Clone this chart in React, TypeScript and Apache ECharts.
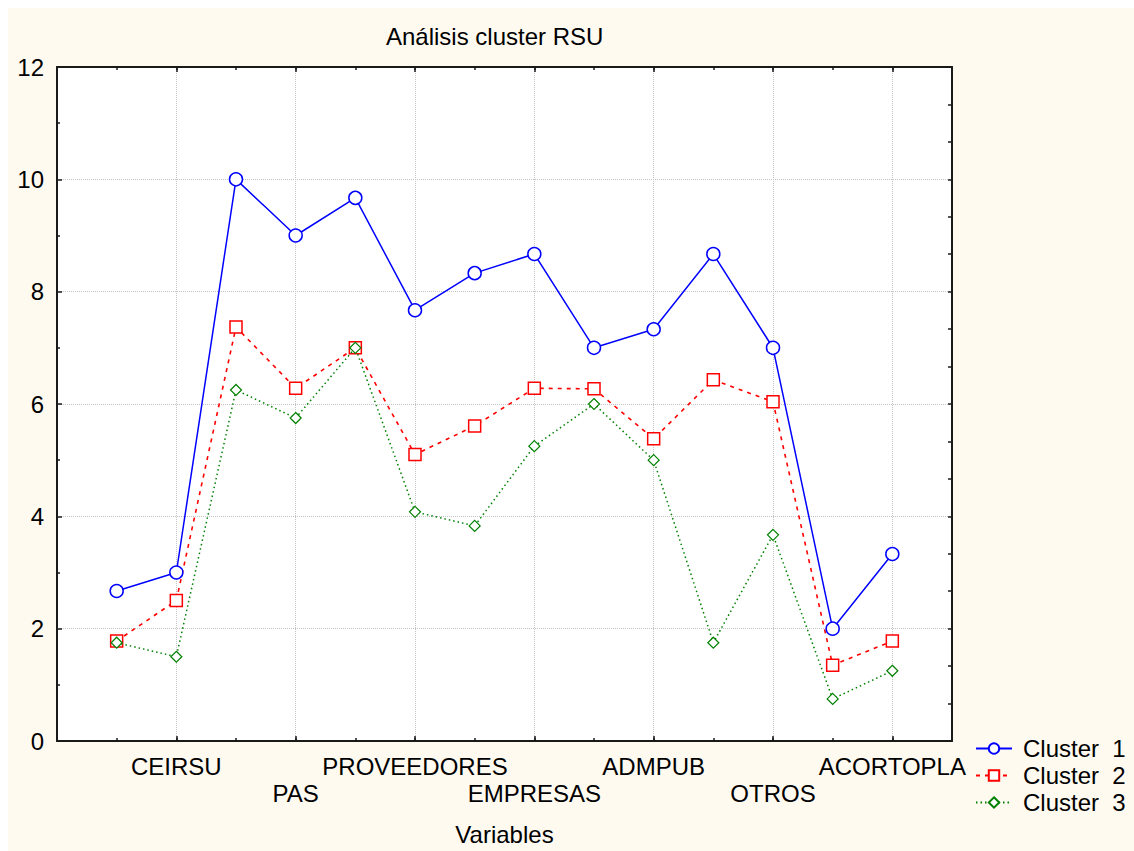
import React, { useEffect, useRef } from "react";
import * as echarts from "echarts";

const titleText = "Análisis cluster RSU";
const xAxisName = "Variables";
// labels shown at x = 2, 4, ..., 14
const xTickLabels = ["CEIRSU", "PAS", "PROVEEDORES", "EMPRESAS", "ADMPUB", "OTROS", "ACORTOPLA"];
const seriesNames = ["Cluster  1", "Cluster  2", "Cluster  3"];
// values for variables 1..14
const cluster1 = [2.67, 3.0, 10.0, 9.0, 9.67, 7.67, 8.33, 8.67, 7.0, 7.33, 8.67, 7.0, 2.0, 3.33];
const cluster2 = [1.78, 2.5, 7.37, 6.28, 7.0, 5.1, 5.61, 6.28, 6.27, 5.38, 6.43, 6.04, 1.35, 1.78];
const cluster3 = [1.75, 1.5, 6.25, 5.75, 7.0, 4.08, 3.83, 5.25, 6.0, 5.0, 1.75, 3.67, 0.75, 1.25];

const FONT = "'Liberation Sans', Arial, sans-serif";
const FS = 24;
const FRAME = "#1a1a1a";
const GRID = "#c4c4c4";

export default function App() {
  const ref = useRef<HTMLDivElement>(null);
  useEffect(() => {
    if (!ref.current) return;
    const chart = echarts.init(ref.current, undefined, { renderer: "svg" });
    const toPts = (arr: number[]) => arr.map((v, i) => [i + 1, v]);
    const labelFmt = (v: number) => {
      const i = v / 2 - 1;
      if (Number.isInteger(i) && i >= 0 && i < xTickLabels.length) {
        return i % 2 === 1 ? "\n" + xTickLabels[i] : xTickLabels[i];
      }
      return "";
    };
    const baseX = { type: "value", min: 0, max: 15 } as any;
    chart.setOption({
      animation: false,
      backgroundColor: "#fffaf0",
      textStyle: { fontFamily: FONT },
      title: {
        text: titleText,
        left: 378,
        top: 16,
        padding: 0,
        textStyle: { fontFamily: FONT, fontSize: FS, fontWeight: "normal", color: "#000" },
      },
      grid: { left: 49, top: 59, width: 895, height: 676, show: true, backgroundColor: "#ffffff", borderWidth: 0 },
      legend: {
        orient: "vertical",
        left: 967,
        top: 727,
        padding: 0,
        itemGap: 0,
        itemWidth: 36,
        itemHeight: 13,
        textStyle: { fontFamily: FONT, fontSize: FS, lineHeight: 27, color: "#000", padding: [0, 0, 0, 6] },
        data: seriesNames,
      },
      xAxis: [
        {
          ...baseX,
          position: "bottom",
          interval: 2,
          name: xAxisName,
          nameLocation: "middle",
          nameGap: 81,
          nameTextStyle: { fontFamily: FONT, fontSize: FS, color: "#000" },
          axisLine: { show: true, onZero: false, lineStyle: { color: FRAME, width: 2 } },
          axisTick: { show: true, inside: true, length: 5, lineStyle: { color: FRAME, width: 1.5 } },
          axisLabel: {
            show: true,
            formatter: labelFmt,
            margin: 12,
            fontFamily: FONT,
            fontSize: FS,
            lineHeight: 27,
            color: "#000",
            verticalAlign: "top",
            showMinLabel: true,
            showMaxLabel: true,
            hideOverlap: false,
          },
          splitLine: { show: true, lineStyle: { color: GRID, type: [1, 1], width: 1 } },
        },
        {
          ...baseX,
          position: "bottom",
          interval: 1,
          axisLine: { show: false, onZero: false },
          axisTick: { show: true, inside: true, length: 3, lineStyle: { color: FRAME, width: 1.5 } },
          axisLabel: { show: false },
          splitLine: { show: false },
        },
        {
          ...baseX,
          position: "top",
          interval: 2,
          axisLine: { show: true, onZero: false, lineStyle: { color: FRAME, width: 2 } },
          axisTick: { show: true, inside: true, length: 5, lineStyle: { color: FRAME, width: 1.5 } },
          axisLabel: { show: false },
          splitLine: { show: false },
        },
        {
          ...baseX,
          position: "top",
          interval: 1,
          axisLine: { show: false, onZero: false },
          axisTick: { show: true, inside: true, length: 3, lineStyle: { color: FRAME, width: 1.5 } },
          axisLabel: { show: false },
          splitLine: { show: false },
        },
      ],
      yAxis: [
        {
          type: "value",
          position: "left",
          min: 0,
          max: 12,
          interval: 2,
          axisLine: { show: true, onZero: false, lineStyle: { color: FRAME, width: 2 } },
          axisTick: { show: true, inside: true, length: 5, lineStyle: { color: FRAME, width: 1.5 } },
          minorTick: { show: true, splitNumber: 2, length: 3, lineStyle: { color: FRAME, width: 1.5 } },
          axisLabel: { show: true, margin: 13, fontFamily: FONT, fontSize: FS, color: "#000" },
          splitLine: { show: true, lineStyle: { color: GRID, type: [1, 1], width: 1 } },
        },
        {
          type: "value",
          position: "right",
          min: 0,
          max: 12,
          interval: 2 / 3,
          axisLine: { show: true, onZero: false, lineStyle: { color: FRAME, width: 2 } },
          axisTick: { show: true, inside: true, length: 4, lineStyle: { color: FRAME, width: 1.5 } },
          axisLabel: { show: false },
          splitLine: { show: false },
        },
      ],
      series: [
        {
          name: seriesNames[0],
          type: "line",
          xAxisIndex: 0,
          yAxisIndex: 0,
          data: toPts(cluster1),
          symbol: "circle",
          symbolSize: 13,
          showAllSymbol: true,
          lineStyle: { color: "#0000ff", width: 1.5, type: "solid" },
          itemStyle: { color: "#ffffff", borderColor: "#0000ff", borderWidth: 1.5 },
          z: 4,
        },
        {
          name: seriesNames[1],
          type: "line",
          xAxisIndex: 0,
          yAxisIndex: 0,
          data: toPts(cluster2),
          symbol: "rect",
          symbolSize: 12,
          showAllSymbol: true,
          lineStyle: { color: "#ff0000", width: 1.6, type: [4, 5] },
          itemStyle: { color: "#ffffff", borderColor: "#ff0000", borderWidth: 1.5 },
          z: 3,
        },
        {
          name: seriesNames[2],
          type: "line",
          xAxisIndex: 0,
          yAxisIndex: 0,
          data: toPts(cluster3),
          symbol: "diamond",
          symbolSize: 11,
          showAllSymbol: true,
          lineStyle: { color: "#008000", width: 1.5, type: [1.5, 3] },
          itemStyle: { color: "#ffffff", borderColor: "#008000", borderWidth: 1.2 },
          z: 5,
        },
      ],
    });
    return () => chart.dispose();
  }, []);
  return (
    <div
      ref={ref}
      style={{ position: "fixed", left: 8, top: 8, width: 1126, height: 843 }}
    />
  );
}
